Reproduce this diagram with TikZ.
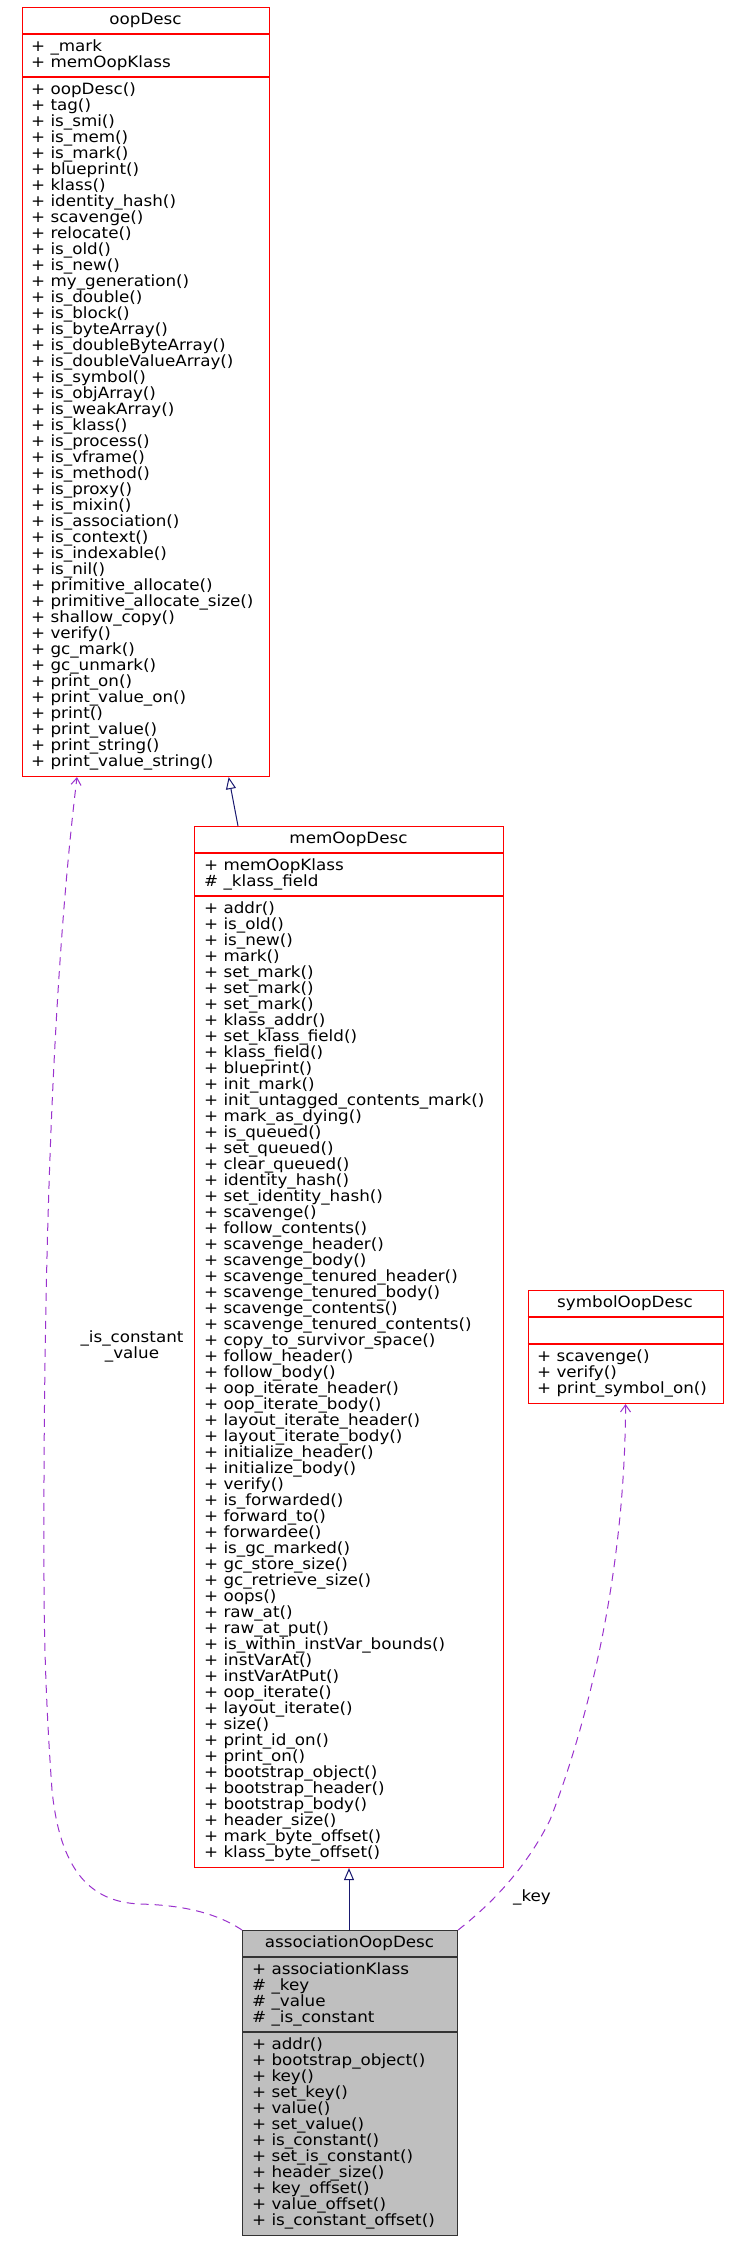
\documentclass[tikz,border=0pt]{standalone}
\usepackage{fontspec}
\usetikzlibrary{arrows.meta,calc}
\newfontfamily\umlfont[FakeStretch=1.08]{DejaVu Sans}
\definecolor{edgenavy}{HTML}{191970}
\definecolor{edgepurple}{HTML}{9A32CD}
\definecolor{boxgray}{HTML}{BFBFBF}
\tikzset{
  redbox/.style={draw=red, line width=1.1pt, fill=white, inner sep=0pt, anchor=north west},
  graybox/.style={draw=black!80, line width=1.1pt, fill=boxgray, inner sep=0pt, anchor=north west},
  redsep/.style={draw=red, line width=1.1pt},
  graysep/.style={draw=black!80, line width=1.1pt},
  mtext/.style={anchor=base west, inner sep=0pt, font=\umlfont\fontsize{15.5}{16}\selectfont},
  ttext/.style={anchor=base, inner sep=0pt, font=\umlfont\fontsize{15.5}{16}\selectfont},
  lbl/.style={inner sep=0pt, align=center, font=\umlfont\fontsize{15.5}{16}\selectfont},
  inherit/.style={draw=edgenavy, line width=1pt, -{Triangle[open, length=12pt, width=10pt, line width=1pt, fill=white]}},
  usage/.style={draw=edgepurple, line width=1pt, dash pattern=on 8pt off 6pt, -{Straight Barb[length=7pt, width=10pt, line width=1pt]}}
}
\newcommand{\complines}[4]{%
  \foreach \t [count=\i] in {#4} {\node[mtext] (#1-\i) at (#2, {#3+16*(\i-1)}) {\t};}%
}
\begin{document}
\begin{tikzpicture}[x=1pt, y=-1pt]
\useasboundingbox (0,0) rectangle (730,2242);

% ---------------- oopDesc
\node[redbox, minimum width=247pt, minimum height=769pt] (oop) at (22,7) {};
\draw[redsep] (22,34) -- (269,34);
\draw[redsep] (22,77) -- (269,77);
\node[ttext] (oop-title) at (145.5,24.5) {oopDesc};
\complines{oopa}{31}{51.5}{+ \_mark, + memOopKlass}
\complines{oopm}{31}{94.5}{+ oopDesc(), + tag(), + is\_smi(), + is\_mem(), + is\_mark(), + blueprint(), + klass(), + identity\_hash(), + scavenge(), + relocate(), + is\_old(), + is\_new(), + my\_generation(), + is\_double(), + is\_block(), + is\_byteArray(), + is\_doubleByteArray(), + is\_doubleValueArray(), + is\_symbol(), + is\_objArray(), + is\_weakArray(), + is\_klass(), + is\_process(), + is\_vframe(), + is\_method(), + is\_proxy(), + is\_mixin(), + is\_association(), + is\_context(), + is\_indexable(), + is\_nil(), + primitive\_allocate(), + primitive\_allocate\_size(), + shallow\_copy(), + verify(), + gc\_mark(), + gc\_unmark(), + print\_on(), + print\_value\_on(), + print(), + print\_value(), + print\_string(), + print\_value\_string()}

% ---------------- memOopDesc
\node[redbox, minimum width=309pt, minimum height=1041pt] (mem) at (194,826) {};
\draw[redsep] (194,853) -- (503,853);
\draw[redsep] (194,896) -- (503,896);
\node[ttext] (mem-title) at (348.5,843.5) {memOopDesc};
\complines{mema}{204}{870.5}{+ memOopKlass, \# \_klass\_field}
\complines{memm}{204}{913.5}{+ addr(), + is\_old(), + is\_new(), + mark(), + set\_mark(), + set\_mark(), + set\_mark(), + klass\_addr(), + set\_klass\_field(), + klass\_field(), + blueprint(), + init\_mark(), + init\_untagged\_contents\_mark(), + mark\_as\_dying(), + is\_queued(), + set\_queued(), + clear\_queued(), + identity\_hash(), + set\_identity\_hash(), + scavenge(), + follow\_contents(), + scavenge\_header(), + scavenge\_body(), + scavenge\_tenured\_header(), + scavenge\_tenured\_body(), + scavenge\_contents(), + scavenge\_tenured\_contents(), + copy\_to\_survivor\_space(), + follow\_header(), + follow\_body(), + oop\_iterate\_header(), + oop\_iterate\_body(), + layout\_iterate\_header(), + layout\_iterate\_body(), + initialize\_header(), + initialize\_body(), + verify(), + is\_forwarded(), + forward\_to(), + forwardee(), + is\_gc\_marked(), + gc\_store\_size(), + gc\_retrieve\_size(), + oops(), + raw\_at(), + raw\_at\_put(), + is\_within\_instVar\_bounds(), + instVarAt(), + instVarAtPut(), + oop\_iterate(), + layout\_iterate(), + size(), + print\_id\_on(), + print\_on(), + bootstrap\_object(), + bootstrap\_header(), + bootstrap\_body(), + header\_size(), + mark\_byte\_offset(), + klass\_byte\_offset()}

% ---------------- symbolOopDesc
\node[redbox, minimum width=195pt, minimum height=113pt] (sym) at (527.5,1290) {};
\draw[redsep] (527.5,1317) -- (722.5,1317);
\draw[redsep] (527.5,1344) -- (722.5,1344);
\node[ttext] (sym-title) at (625,1307.5) {symbolOopDesc};
\complines{symm}{537}{1361.5}{+ scavenge(), + verify(), + print\_symbol\_on()}

% ---------------- associationOopDesc
\node[graybox, minimum width=215pt, minimum height=305pt] (assoc) at (242,1930) {};
\draw[graysep] (242,1957) -- (457,1957);
\draw[graysep] (242,2032) -- (457,2032);
\node[ttext] (assoc-title) at (349.5,1947.5) {associationOopDesc};
\complines{assa}{252}{1974.5}{+ associationKlass, \# \_key, \# \_value, \# \_is\_constant}
\complines{assm}{252}{2049.5}{+ addr(), + bootstrap\_object(), + key(), + set\_key(), + value(), + set\_value(), + is\_constant(), + set\_is\_constant(), + header\_size(), + key\_offset(), + value\_offset(), + is\_constant\_offset()}

% ---------------- edges
\draw[inherit] ($(mem.north west)+(44,0)$) -- ($(oop.south west)+(206.7,0)$);
\draw[inherit] ($(assoc.north west)+(107,0)$) -- ($(mem.south west)+(155,0)$);

\draw[usage] (assoc.north west)
  .. controls (215,1912) and (180,1905) .. (140,1904)
  .. controls (90,1902) and (60,1870) .. (52,1790)
  .. controls (47,1720) and (44,1650) .. (44,1580)
  .. controls (43,1300) and (50,1000) .. ($(oop.south west)+(55,0)$);
\node[lbl] (lbl-isconst) at (132,1346) {\_is\_constant\\\_value};

\draw[usage] (assoc.north east)
  .. controls (490,1905) and (525,1870) .. (550,1820)
  .. controls (585,1730) and (625,1580) .. (sym.south);
\node[ttext] (lbl-key) at (532,1901) {\_key};
\end{tikzpicture}
\end{document}
